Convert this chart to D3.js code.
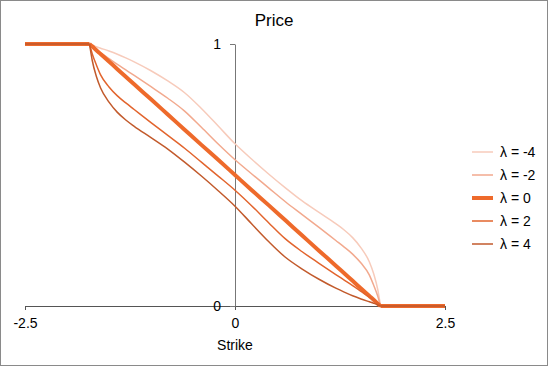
<!DOCTYPE html>
<html>
<head>
<meta charset="utf-8">
<script src="https://d3js.org/d3.v7.min.js"></script>
<style>
  body { margin: 0; background: #fff; }
  svg { font-family: "Liberation Sans", Arial, sans-serif; }
</style>
</head>
<body>
<div id="chart"></div>
<script>
// strike grid (support of the distribution is [-1.732, 1.732])
const strikes = [-1.732, -1.7, -1.65, -1.6, -1.5, -1.4, -1.3, -1.2, -1.0, -0.8, -0.6, -0.4, -0.2, 0,
                 0.2, 0.4, 0.6, 0.8, 1.0, 1.2, 1.3, 1.4, 1.5, 1.6, 1.65, 1.7, 1.732];

const priceM4 = [1, 0.9955, 0.9895, 0.984, 0.973, 0.961, 0.947, 0.932, 0.898, 0.859, 0.814, 0.754, 0.687, 0.619,
                 0.56, 0.504, 0.451, 0.401, 0.357, 0.314, 0.29, 0.261, 0.222, 0.168, 0.124, 0.062, 0];
const priceM2 = [1, 0.989, 0.976, 0.966, 0.944, 0.922, 0.901, 0.88, 0.837, 0.793, 0.744, 0.682, 0.618, 0.558,
                 0.504, 0.451, 0.398, 0.349, 0.30, 0.25, 0.225, 0.198, 0.164, 0.118, 0.08, 0.037, 0];
const price0  = [1, 0.991, 0.976, 0.962, 0.933, 0.904, 0.875, 0.846, 0.789, 0.731, 0.673, 0.615, 0.558, 0.5,
                 0.442, 0.385, 0.327, 0.269, 0.211, 0.154, 0.125, 0.096, 0.067, 0.038, 0.024, 0.009, 0];
const priceP2 = [1, 0.963, 0.92, 0.882, 0.836, 0.802, 0.775, 0.75, 0.70, 0.651, 0.602, 0.549, 0.496, 0.442,
                 0.382, 0.318, 0.256, 0.207, 0.163, 0.12, 0.099, 0.078, 0.056, 0.034, 0.024, 0.011, 0];
const priceP4 = [1, 0.938, 0.876, 0.832, 0.778, 0.739, 0.71, 0.686, 0.643, 0.599, 0.549, 0.496, 0.44, 0.381,
                 0.313, 0.246, 0.186, 0.141, 0.102, 0.068, 0.053, 0.039, 0.027, 0.016, 0.0105, 0.0045, 0];

const labels = ["λ = -4", "λ = -2", "λ = 0", "λ = 2", "λ = 4"];
const colors = ["#f7cbbb", "#f2a98e", "#ee6a2b", "#e2642d", "#c25a2c"];
const widths = [1.5, 1.5, 4, 1.5, 1.5];
const xTicks = [-2.5, 0, 2.5];
const yTicks = [0, 1];

const series = [priceM4, priceM2, price0, priceP2, priceP4].map((v, i) => ({
    label: labels[i], color: colors[i], width: widths[i],
    points: strikes.map((k, j) => [k, v[j]])
}));

const width = 548, height = 366;
const svg = d3.select("#chart").append("svg")
    .attr("width", width).attr("height", height);

svg.append("rect")
    .attr("x", 0.5).attr("y", 0.5)
    .attr("width", width - 1).attr("height", height - 1)
    .attr("fill", "#fff").attr("stroke", "#8a8a8a");

const x = d3.scaleLinear().domain([-2.5, 2.5]).range([25, 445]);
const y = d3.scaleLinear().domain([0, 1]).range([306, 44]);

// title
svg.append("text")
    .attr("x", 274).attr("y", 26)
    .attr("text-anchor", "middle")
    .style("font-size", "17px")
    .text("Price");

// x axis
const xAxis = svg.append("g")
    .attr("transform", `translate(0,${y(0)})`)
    .call(d3.axisBottom(x).tickValues(xTicks).tickFormat(d => String(d)).tickSize(4).tickSizeOuter(0));
xAxis.select(".domain").attr("stroke", "#555");
xAxis.selectAll(".tick line").attr("stroke", "#555");
xAxis.selectAll(".tick text").style("font-size", "14px").attr("dy", "1.1em").attr("fill", "#000");

// y axis
const yAxis = svg.append("g")
    .attr("transform", `translate(${x(0)},0)`)
    .call(d3.axisLeft(y).tickValues(yTicks).tickFormat(d => String(d)).tickSize(5).tickSizeOuter(0).tickPadding(9));
yAxis.select(".domain").attr("stroke", "#777");
yAxis.selectAll(".tick line").attr("stroke", "#777");
yAxis.selectAll(".tick text").style("font-size", "14px").attr("fill", "#000");

svg.append("text")
    .attr("x", x(0)).attr("y", 350)
    .attr("text-anchor", "middle")
    .style("font-size", "14px")
    .text("Strike");

// lines
const curve = d3.line().x(d => x(d[0])).y(d => y(d[1])).curve(d3.curveMonotoneX);
const flat = d3.line().x(d => x(d[0])).y(d => y(d[1]));
const lo = x.domain()[0], hi = x.domain()[1];

series.forEach(s => {
    const first = s.points[0], last = s.points[s.points.length - 1];
    const g = svg.append("g")
        .attr("fill", "none")
        .attr("stroke", s.color)
        .attr("stroke-width", s.width);
    g.append("path").attr("d", flat([[lo, first[1]], first]));
    g.append("path").attr("d", curve(s.points));
    g.append("path").attr("d", flat([last, [hi, last[1]]]));
});

// legend
const legend = svg.append("g").attr("transform", "translate(472,152)");
const item = legend.selectAll("g").data(series).enter().append("g")
    .attr("transform", (d, i) => `translate(0,${i * 23})`);
item.append("line")
    .attr("x1", 0).attr("x2", 21)
    .attr("stroke", d => d.color)
    .attr("stroke-width", d => d.width);
item.append("text")
    .attr("x", 28).attr("dy", "0.35em")
    .style("font-size", "14px")
    .text(d => d.label);
</script>
</body>
</html>
